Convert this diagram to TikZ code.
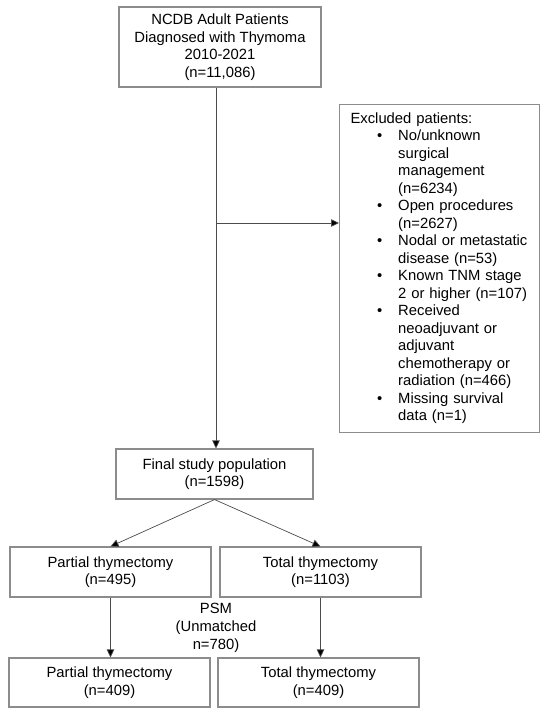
\documentclass[tikz,border=0pt]{standalone}
\usepackage{fontspec}
\setmainfont{Liberation Sans}
\usetikzlibrary{arrows.meta}
\begin{document}
\begin{tikzpicture}[x=1pt,y=-1pt,
  box/.style={draw=black!45,line width=1.1pt,fill=white,align=center,inner sep=0pt,
    font=\fontsize{14.8}{17.5}\selectfont},
  arr/.style={draw=black!70,line width=0.7pt,-{Triangle[length=8pt,width=7.5pt,fill=black]}},
  lbl/.style={align=center,inner sep=0pt,font=\fontsize{14.8}{18}\selectfont}]
\useasboundingbox[fill=white] (0,0) rectangle (550,719);
\node[box,minimum width=202pt,minimum height=80pt] (top) at (220,47)
  {NCDB Adult Patients\\Diagnosed with Thymoma\\2010-2021\\(n=11,086)};
\node[box,minimum width=200pt,minimum height=328pt,inner xsep=11pt,text width=178pt,
  anchor=north west,align=left] (excl) at (339,104)
  {\begin{tabular}{@{\hspace{26.5pt}}c@{\hspace{16pt}}l@{}}
  \multicolumn{2}{@{}l@{}}{Excluded patients:}\\
  \textbullet & No/unknown\\
   & surgical\\
   & management\\
   & (n=6234)\\
  \textbullet & Open procedures\\
   & (n=2627)\\
  \textbullet & Nodal or metastatic\\
   & disease (n=53)\\
  \textbullet & Known TNM stage\\
   & 2 or higher (n=107)\\
  \textbullet & Received\\
   & neoadjuvant or\\
   & adjuvant\\
   & chemotherapy or\\
   & radiation (n=466)\\
  \textbullet & Missing survival\\
   & data (n=1)
  \end{tabular}};
\node[box,minimum width=197pt,minimum height=50pt] (fin) at (214.5,474)
  {Final study population\\(n=1598)};
\node[box,minimum width=201pt,minimum height=50pt] (pt1) at (110.5,572)
  {Partial thymectomy\\(n=495)};
\node[box,minimum width=201pt,minimum height=50pt] (tt1) at (320.5,572)
  {Total thymectomy\\(n=1103)};
\node[box,minimum width=201pt,minimum height=49pt] (pt2) at (109.5,682.5)
  {Partial thymectomy\\(n=409)};
\node[box,minimum width=201pt,minimum height=49pt] (tt2) at (318.5,682.5)
  {Total thymectomy\\(n=409)};
\node[lbl] (psm) at (216,628) {PSM\\(Unmatched\\n=780)};
\coordinate (jn) at (216,223);
\draw[arr] (top.south -| jn) -- (fin.north -| jn);
\draw[arr] (jn) -- (jn -| excl.west);
\draw[arr] (fin.south) -- (pt1.north);
\draw[arr] (fin.south) -- (tt1.north);
\draw[arr] (pt1.south) -- (pt1.south |- pt2.north);
\draw[arr] (tt1.south) -- (tt1.south |- tt2.north);
\end{tikzpicture}
\end{document}
